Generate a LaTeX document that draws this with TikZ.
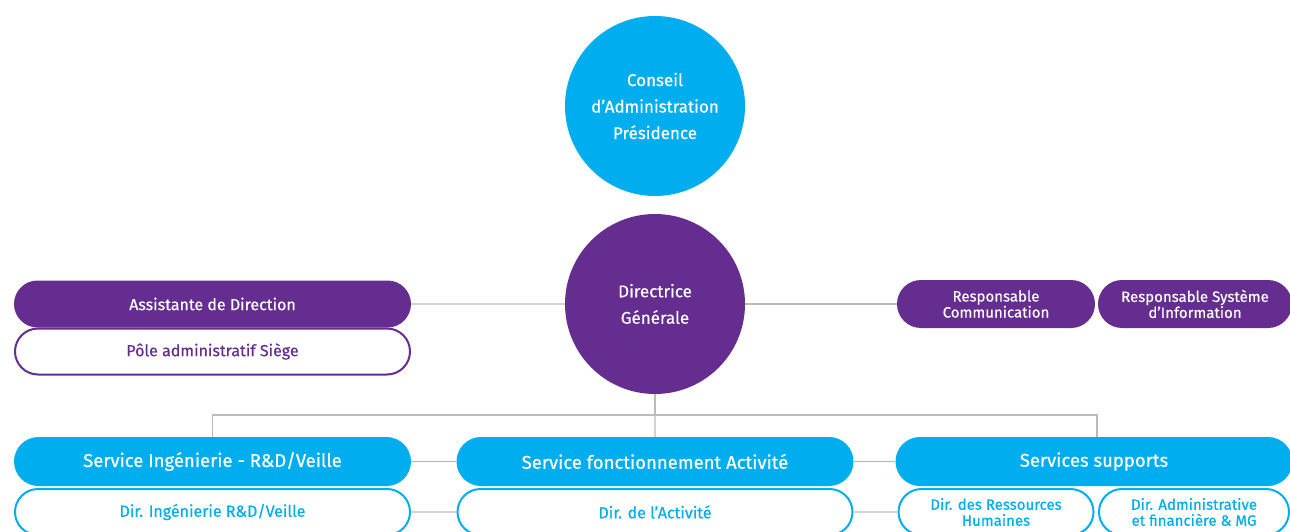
\documentclass[tikz,border=0pt]{standalone}
\usepackage{fontspec}
\setmainfont{Fira Sans}[FakeBold=0.5]
\usetikzlibrary{shapes.misc}
\definecolor{skyblue}{HTML}{00AEEF}
\definecolor{plum}{HTML}{662D91}
\definecolor{linkgray}{HTML}{BBBBBB}
\tikzset{
  bigdisc/.style={circle, minimum size=180pt, inner sep=0pt, align=center,
    text=white, font=\fontsize{17}{26.5}\selectfont},
  pillfull/.style={rounded rectangle, minimum height=47pt, inner sep=0pt,
    align=center, text=white},
  pilledge/.style={rounded rectangle, minimum height=46pt, inner sep=0pt,
    align=center, fill=white, line width=2pt},
  link/.style={draw=linkgray, line width=1.2pt}
}
\begin{document}
\begin{tikzpicture}[x=1pt, y=-1pt]
  \useasboundingbox (0,0) rectangle (1290,532);
  % circles
  \node[bigdisc, fill=skyblue] (ca) at (655,106) {Conseil\\d'Administration\\Présidence};
  \node[bigdisc, fill=plum] (dg) at (655,304) {Directrice\\Générale};
  % left side
  \node[pillfull, fill=plum, minimum width=397pt, font=\fontsize{16}{18}\selectfont]
    (assist) at (212.5,304) {Assistante de Direction};
  \node[pilledge, draw=plum, text=plum, minimum width=395pt, font=\fontsize{16}{18}\selectfont]
    (pole) at (212.5,351.5) {Pôle administratif Siège};
  % right side
  \node[pillfull, fill=plum, minimum width=198pt, minimum height=48pt, font=\fontsize{15}{16}\selectfont]
    (rcom) at (996,304) {Responsable\\Communication};
  \node[pillfull, fill=plum, minimum width=194pt, minimum height=48pt, font=\fontsize{15}{16}\selectfont]
    (rsi) at (1195,304) {Responsable Système\\d'Information};
  % services
  \foreach \nm/\cx/\lbl in {sing/212.5/{Service Ingénierie - R\&D/Veille},
      sfa/655/{Service fonctionnement Activité}, ssup/1094/{Services supports}}{
    \node[pillfull, fill=skyblue, minimum width=397pt, minimum height=49pt,
      font=\fontsize{18.5}{20}\selectfont] (\nm) at (\cx,461.5) {\lbl};
  }
  \node[pilledge, draw=skyblue, text=skyblue, minimum width=395pt, font=\fontsize{16}{18}\selectfont]
    (ding) at (212.5,512) {Dir. Ingénierie R\&D/Veille};
  \node[pilledge, draw=skyblue, text=skyblue, minimum width=395pt, font=\fontsize{16}{18}\selectfont]
    (dact) at (655,512) {Dir. de l'Activité};
  \node[pilledge, draw=skyblue, text=skyblue, minimum width=195pt, font=\fontsize{15}{16}\selectfont]
    (drh) at (996,512) {Dir. des Ressources\\Humaines};
  \node[pilledge, draw=skyblue, text=skyblue, minimum width=190pt, font=\fontsize{15}{16}\selectfont]
    (daf) at (1194,512) {Dir. Administrative\\et financière \& MG};
  % connectors
  \coordinate (junc) at (655,415);
  \draw[link] (assist) -- (dg);
  \draw[link] (dg) -- (rcom);
  \draw[link] (dg) -- (junc);
  \draw[link] (sing.north) |- (junc) -| (1097,437);
  \draw[link] (junc) -- (sfa);
  \draw[link] (sing) -- (sfa);
  \draw[link] (sfa) -- (ssup);
  \draw[link] (ding) -- (dact);
  \draw[link] (dact) -- (drh);
\end{tikzpicture}
\end{document}
